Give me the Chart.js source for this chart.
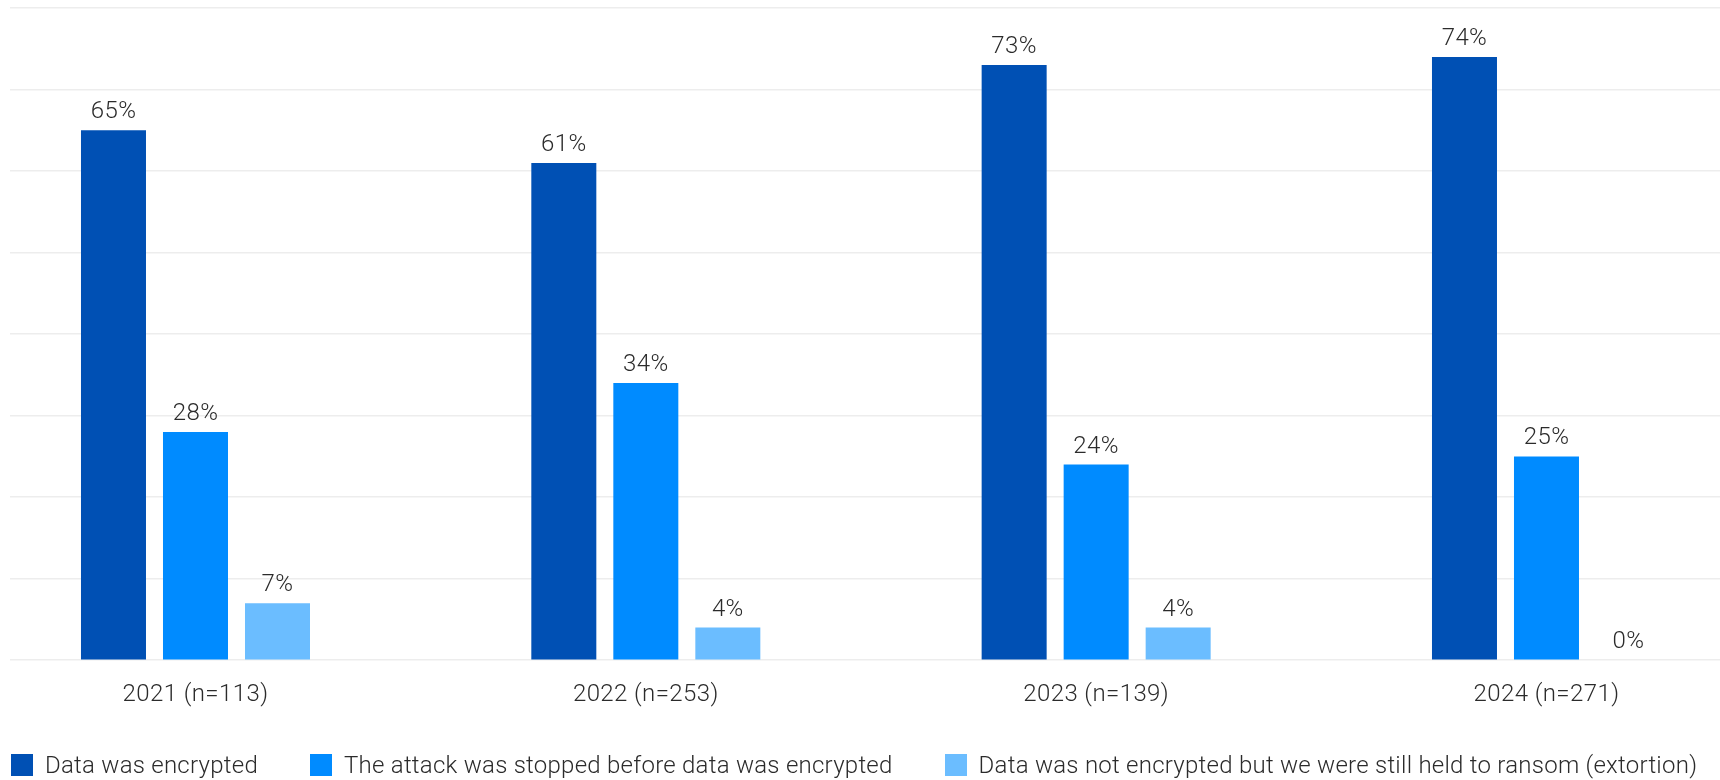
<!DOCTYPE html>
<html>
<head>
<meta charset="utf-8">
<script src="https://cdn.jsdelivr.net/npm/chart.js@4/dist/chart.umd.min.js"></script>
<style>
  html, body { margin: 0; padding: 0; background: #fff; }
  #wrap { position: relative; width: 1720px; height: 780px; overflow: hidden; }
  #chart { position: absolute; left: 0; top: 0; }
  #legend {
    position: absolute; left: 11px; top: 754px;
    display: flex; align-items: center;
    font-family: Roboto, sans-serif; font-size: 24px; font-weight: 300; color: #2b2b2b;
    letter-spacing: 0.25px;
  }
  .item { display: flex; align-items: center; margin-right: 52px; height: 22px; white-space: nowrap; }
  .swatch { width: 22px; height: 22px; margin-right: 12px; flex: none; }
</style>
</head>
<body>
<div id="wrap">
  <canvas id="chart" width="1720" height="780"></canvas>
  <div id="legend"></div>
</div>
<script>
// Survey years (with sample sizes)
const categories = ['2021 (n=113)', '2022 (n=253)', '2023 (n=139)', '2024 (n=271)'];

// Outcome shares, in percent
const encrypted = [65, 61, 73, 74];
const stopped = [28, 34, 24, 25];
const extortion = [7, 4, 4, 0];

const seriesNames = [
  'Data was encrypted',
  'The attack was stopped before data was encrypted',
  'Data was not encrypted but we were still held to ransom (extortion)'
];
const seriesColors = ['#0050B4', '#008BFF', '#6BBDFF'];

const yTicks = [0, 10, 20, 30, 40, 50, 60, 70, 80];

const textColor = '#2b2b2b';
const fontFamily = 'Roboto, sans-serif';
const fontWeight = 300;

function toPoints(values) {
  return values.map((v, i) => ({ x: i, y: v }));
}

// Slightly looser tracking for all canvas text
const canvasTracking = {
  id: 'canvasTracking',
  beforeUpdate(chart) { chart.ctx.letterSpacing = '0.4px'; },
  beforeDraw(chart) { chart.ctx.letterSpacing = '0.4px'; }
};

// Percent labels above every bar
const valueLabels = {
  id: 'valueLabels',
  afterDatasetsDraw(chart) {
    const ctx = chart.ctx;
    ctx.save();
    ctx.font = fontWeight + ' 24px ' + fontFamily;
    ctx.fillStyle = textColor;
    ctx.textAlign = 'center';
    ctx.textBaseline = 'alphabetic';
    chart.data.datasets.forEach((ds, i) => {
      chart.getDatasetMeta(i).data.forEach((bar, j) => {
        ctx.fillText(ds.data[j].y + '%', bar.x, bar.y - 12);
      });
    });
    ctx.restore();
  }
};

function build() {
  const seriesValues = [encrypted, stopped, extortion];
  new Chart(document.getElementById('chart'), {
    type: 'bar',
    data: {
      datasets: seriesValues.map((vals, i) => ({
        label: seriesNames[i],
        data: toPoints(vals),
        backgroundColor: seriesColors[i],
        borderWidth: 0,
        categoryPercentage: 0.5463,
        barPercentage: 0.7927
      }))
    },
    options: {
      responsive: false,
      animation: false,
      devicePixelRatio: 1,
      layout: { padding: { left: 10, right: 0, top: 8, bottom: 51 } },
      plugins: {
        legend: { display: false },
        tooltip: { enabled: false }
      },
      scales: {
        x: {
          type: 'linear',
          min: -0.4119,
          max: 3.3853,
          offset: false,
          grid: { display: false, drawTicks: false, offset: false },
          border: { display: false },
          afterBuildTicks(scale) {
            scale.ticks = categories.map((_, i) => ({ value: i }));
          },
          ticks: {
            padding: 20,
            color: textColor,
            font: { family: fontFamily, size: 24, weight: fontWeight },
            maxRotation: 0,
            autoSkip: false,
            callback: (value) => categories[value] ?? ''
          }
        },
        y: {
          min: 0,
          max: 80,
          afterBuildTicks(scale) {
            scale.ticks = yTicks.map(v => ({ value: v }));
          },
          grid: { color: '#ededed', lineWidth: 1.5, drawTicks: false },
          border: { display: false },
          ticks: { display: false }
        }
      }
    },
    plugins: [canvasTracking, valueLabels]
  });

  const legend = document.getElementById('legend');
  seriesNames.forEach((name, i) => {
    const item = document.createElement('div');
    item.className = 'item';
    const sw = document.createElement('span');
    sw.className = 'swatch';
    sw.style.background = seriesColors[i];
    const txt = document.createElement('span');
    txt.textContent = name;
    item.appendChild(sw);
    item.appendChild(txt);
    legend.appendChild(item);
  });
}

if (document.fonts && document.fonts.load) {
  document.fonts.load('300 24px Roboto').then(build, build);
} else {
  build();
}
</script>
</body>
</html>
